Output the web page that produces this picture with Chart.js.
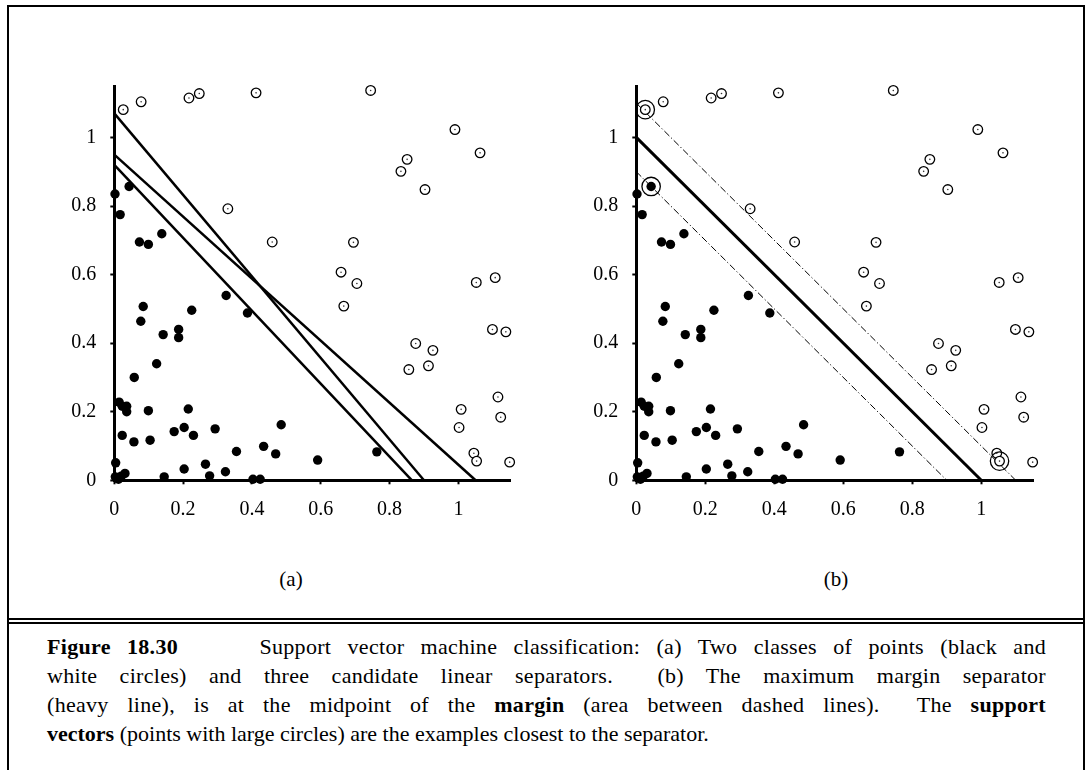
<!DOCTYPE html>
<html>
<head>
<meta charset="utf-8">
<script src="https://cdn.jsdelivr.net/npm/chart.js@4.4.0/dist/chart.umd.min.js"></script>
<style>
  body { margin: 0; background: #fff; width: 1089px; height: 770px; overflow: hidden; position: relative; font-family: 'Liberation Serif', 'Times New Roman', serif; color: #000; }
  #frame { position: absolute; left: 7px; top: 5px; width: 1078px; height: 800px; border: 2px solid #000; box-sizing: border-box; }
  .rule { position: absolute; left: 7px; width: 1078px; height: 2px; background: #000; }
  canvas { position: absolute; }
  .sub { position: absolute; top: 567px; font-size: 21px; width: 60px; text-align: center; }
  #caption { position: absolute; left: 47px; top: 632px; width: 999px; font-size: 22px; line-height: 29px; }
  #caption .j { text-align: justify; text-align-last: justify; letter-spacing: 0.3px; }
</style>
</head>
<body>
<div id="frame"></div>
<div class="rule" style="top:618px"></div>
<div class="rule" style="top:622px"></div>

<canvas id="graficoA" width="500" height="470" style="left:40px;top:60px"></canvas>
<canvas id="graficoB" width="501" height="470" style="left:562px;top:60px"></canvas>

<div class="sub" style="left:261px">(a)</div>
<div class="sub" style="left:806px">(b)</div>

<div id="caption">
  <div class="j"><b>Figure 18.30</b>&nbsp;&nbsp;&nbsp;&nbsp; Support vector machine classification: (a) Two classes of points (black and</div>
  <div class="j">white circles) and three candidate linear separators.&nbsp; (b) The maximum margin separator</div>
  <div class="j">(heavy line), is at the midpoint of the <b>margin</b> (area between dashed lines).&nbsp; The <b>support</b></div>
  <div><b>vectors</b> (points with large circles) are the examples closest to the separator.</div>
</div>

<script>
// pontos pretos
var pretosX = [0.002, 0.043, 0.017, 0.073, 0.099, 0.138, 0.325, 0.387, 0.084, 0.077, 0.225, 0.187,
  0.187, 0.142, 0.123, 0.058, 0.014, 0.023, 0.036, 0.036, 0.099, 0.215, 0.023, 0.057, 0.104, 0.174,
  0.203, 0.230, 0.293, 0.355, 0.434, 0.469, 0.485, 0.004, 0.203, 0.265, 0.277, 0.323, 0.145, 0.403,
  0.424, 0.031, 0.003, 0.012, 0.020, 0.591, 0.763];
var pretosY = [0.835, 0.857, 0.775, 0.695, 0.688, 0.719, 0.539, 0.488, 0.507, 0.464, 0.496, 0.440,
  0.416, 0.425, 0.340, 0.300, 0.228, 0.216, 0.216, 0.200, 0.203, 0.208, 0.131, 0.112, 0.117, 0.142,
  0.154, 0.131, 0.150, 0.084, 0.099, 0.077, 0.162, 0.051, 0.033, 0.047, 0.013, 0.025, 0.010, 0.003,
  0.003, 0.020, 0.010, 0.003, 0.012, 0.059, 0.083];

// pontos brancos
var brancosX = [0.026, 0.078, 0.217, 0.247, 0.412, 0.330, 0.459, 0.745, 0.990, 1.063, 0.851, 0.833,
  0.903, 0.695, 0.659, 0.705, 1.052, 1.107, 0.667, 1.099, 1.138, 0.876, 0.926, 0.913, 0.856, 1.115,
  1.123, 1.008, 1.002, 1.045, 1.053, 1.149];
var brancosY = [1.081, 1.104, 1.115, 1.128, 1.130, 0.792, 0.695, 1.137, 1.023, 0.955, 0.936, 0.901,
  0.848, 0.694, 0.607, 0.574, 0.577, 0.591, 0.508, 0.440, 0.433, 0.399, 0.379, 0.334, 0.323, 0.243,
  0.184, 0.207, 0.154, 0.079, 0.056, 0.053];

// vetores de suporte (b)
var suporteX = [0.026, 0.043, 1.053];
var suporteY = [1.081, 0.857, 0.056];

// separadores candidatos (a)
var sep1X = [0, 0.90],  sep1Y = [1.07, 0];
var sep2X = [0, 1.05],  sep2Y = [0.95, 0];
var sep3X = [0, 0.865], sep3Y = [0.92, 0];

// separador de margem maxima e margens (b)
var sepMaxX = [0, 1.0], sepMaxY = [1.0, 0];
var margemSupX = [0, 1.1], margemSupY = [1.1, 0];
var margemInfX = [0, 0.9], margemInfY = [0.9, 0];

var ticksX = [0, 0.2, 0.4, 0.6, 0.8, 1];
var ticksY = [0, 0.2, 0.4, 0.6, 0.8, 1];

function pares(xs, ys) {
  return xs.map(function (x, i) { return { x: x, y: ys[i] }; });
}

function linha(xs, ys, largura, tracejado) {
  return {
    type: 'line',
    data: pares(xs, ys),
    borderColor: '#000',
    borderWidth: largura,
    borderDash: tracejado || [],
    pointRadius: 0,
    fill: false,
    clip: false,
    order: 5
  };
}

function pontosComuns() {
  return [
    {
      data: pares(pretosX, pretosY),
      backgroundColor: '#000',
      borderColor: '#000',
      borderWidth: 0,
      pointRadius: 4.7,
      clip: false,
      order: 1
    },
    {
      data: pares(brancosX, brancosY),
      backgroundColor: '#fff',
      borderColor: '#000',
      borderWidth: 1.3,
      pointRadius: 4.8,
      clip: false,
      order: 2
    },
    {
      data: pares(brancosX, brancosY),
      backgroundColor: '#333',
      borderWidth: 0,
      pointRadius: 0.8,
      clip: false,
      order: 0
    }
  ];
}

function escala(ticks, pos) {
  return {
    type: 'linear',
    position: pos,
    min: 0,
    max: 1.15,
    afterBuildTicks: function (s) {
      s.ticks = ticks.map(function (v) { return { value: v }; });
    },
    afterFit: function (s) {
      if (pos == 'left') s.width = 74.3;
      else s.height = 49.7;
    },
    grid: {
      drawOnChartArea: false,
      drawTicks: true,
      tickLength: 4,
      tickWidth: 2,
      tickColor: '#000',
      color: '#000'
    },
    border: { display: true, color: '#000', width: 3 },
    ticks: {
      color: '#000',
      padding: pos == 'left' ? 14 : 13,
      font: { family: 'Liberation Serif', size: 20 },
      callback: function (v) { return String(v); }
    }
  };
}

function montaGrafico(divID, datasets) {
  var ctx = document.getElementById(divID).getContext('2d');
  return new Chart(ctx, {
    type: 'scatter',
    data: { datasets: datasets },
    options: {
      responsive: false,
      animation: false,
      layout: { padding: { left: 0, top: 26, right: 30, bottom: 0 } },
      plugins: { legend: { display: false }, tooltip: { enabled: false } },
      scales: {
        x: escala(ticksX, 'bottom'),
        y: escala(ticksY, 'left')
      }
    }
  });
}

montaGrafico('graficoA', pontosComuns().concat([
  linha(sep1X, sep1Y, 2.5),
  linha(sep2X, sep2Y, 2.5),
  linha(sep3X, sep3Y, 2.5)
]));

montaGrafico('graficoB', pontosComuns().concat([
  {
    data: pares(suporteX, suporteY),
    backgroundColor: 'rgba(0,0,0,0)',
    borderColor: '#000',
    borderWidth: 1.3,
    pointRadius: 9.2,
    clip: false,
    order: 0
  },
  linha(sepMaxX, sepMaxY, 3),
  linha(margemSupX, margemSupY, 1, [7, 2.5, 1.2, 2.5]),
  linha(margemInfX, margemInfY, 1, [7, 2.5, 1.2, 2.5])
]));
</script>
</body>
</html>
